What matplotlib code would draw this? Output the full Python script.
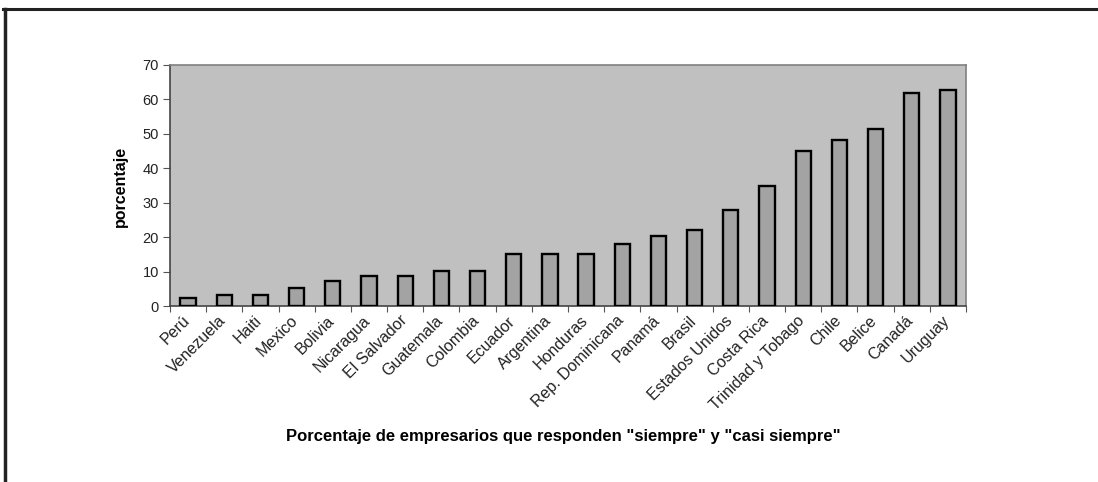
import numpy as np
import matplotlib
matplotlib.use("Agg")
import matplotlib.pyplot as plt
import matplotlib.transforms as mtransforms
from matplotlib.lines import Line2D

plt.rcParams['font.family'] = ['Liberation Sans', 'DejaVu Sans']

# datos
paises = ["Perú", "Venezuela", "Haiti", "Mexico", "Bolivia", "Nicaragua",
          "El Salvador", "Guatemala", "Colombia", "Ecuador", "Argentina",
          "Honduras", "Rep. Dominicana", "Panamá", "Brasil", "Estados Unidos",
          "Costa Rica", "Trinidad y Tobago", "Chile", "Belice", "Canadá", "Uruguay"]
porcentaje = [2.3, 3.1, 3.1, 5.1, 7.2, 8.7, 8.7, 10.2, 10.2, 15.2, 15.2,
              15.2, 18.0, 20.2, 22.0, 28.0, 34.8, 45.0, 48.3, 51.3, 62.0, 62.8]
yticks = [0, 10, 20, 30, 40, 50, 60, 70]

fig = plt.figure(figsize=(10.98, 4.82), dpi=100)
fig.patch.set_facecolor("white")

# marco exterior (solo arriba e izquierda, como en la imagen)
fig.add_artist(Line2D([0.003, 1.0], [1 - 9/482, 1 - 9/482], transform=fig.transFigure,
                      color="#222222", lw=2.2))
fig.add_artist(Line2D([4.5/1098, 4.5/1098], [0, 1 - 9/482], transform=fig.transFigure,
                      color="#222222", lw=2.5))

ax = fig.add_axes([170/1098, (482-306)/482, (966-170)/1098, (306-65)/482])
ax.set_facecolor("#c0c0c0")

x = np.arange(len(paises))
ax.bar(x, porcentaje, width=0.42, color="#a3a3a3", edgecolor="black", linewidth=1.7,
       zorder=3)

ax.set_xlim(-0.5, len(paises) - 0.5)
ax.set_ylim(0, 70)
ax.set_yticks(yticks)
ax.set_yticklabels([str(v) for v in yticks], fontsize=10.5, color="#222222")

# ticks del eje x en los limites entre categorias
ax.set_xticks(np.arange(len(paises) + 1) - 0.5)
ax.set_xticklabels([])
ax.set_xticks(x, minor=True)
ax.set_xticklabels(paises, minor=True, rotation=45, ha="right", va="top",
                   rotation_mode="anchor", fontsize=11.5, color="#222222")
ax.tick_params(axis="x", which="minor", length=0, pad=5)
ax.tick_params(axis="x", which="major", direction="out", length=4, color="#555555")
ax.tick_params(axis="y", direction="out", length=5, color="#555555", pad=3)

# desplazar un poco las etiquetas a la izquierda
desp = mtransforms.ScaledTranslation(-6/100, 0, fig.dpi_scale_trans)
for lab in ax.get_xticklabels(minor=True):
    lab.set_transform(lab.get_transform() + desp)

for s in ["top", "right"]:
    ax.spines[s].set_color("#808080")
    ax.spines[s].set_linewidth(1.2)
for s in ["left", "bottom"]:
    ax.spines[s].set_color("#444444")
    ax.spines[s].set_linewidth(1.2)

fig.text(120/1098, 1 - 186/482, "porcentaje", rotation=90, ha="center", va="center",
         fontsize=11.5, fontweight="bold")
fig.text(563/1098, 1 - 436/482,
         "Porcentaje de empresarios que responden \"siempre\" y \"casi siempre\"",
         ha="center", va="center", fontsize=12, fontweight="bold")

fig.savefig("out.png", dpi=100)
